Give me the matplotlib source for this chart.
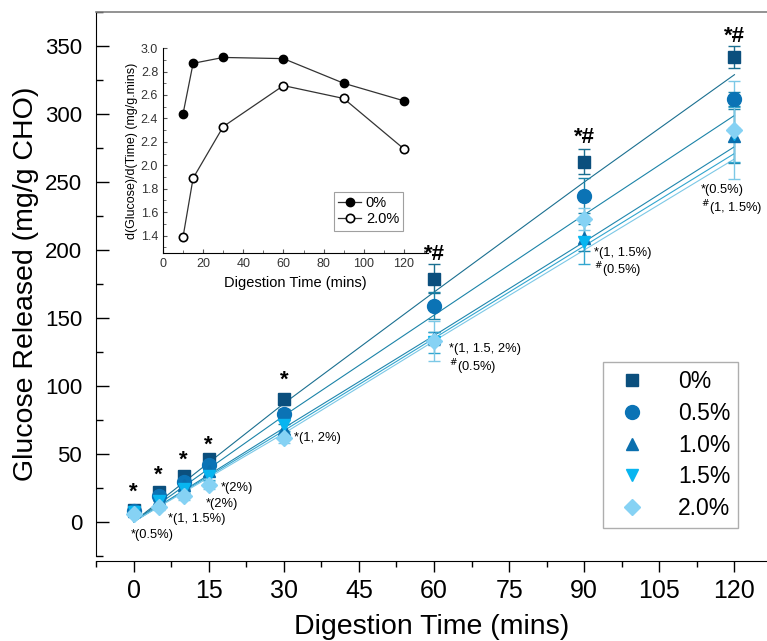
import numpy as np
import matplotlib
matplotlib.use('Agg')
from matplotlib import pyplot as plt
from matplotlib.ticker import MultipleLocator

plt.rcParams['font.family'] = ['Liberation Sans', 'DejaVu Sans']

# digestion data (mg/g CHO)
time = [0, 5, 10, 15, 30, 60, 90, 120]
labels = ['0%', '0.5%', '1.0%', '1.5%', '2.0%']
glc_00 = [9, 22, 34, 46, 90, 179, 265, 342]
glc_05 = [8, 19, 29, 42, 79, 159, 240, 311]
glc_10 = [8, 17, 27, 37, 68, 135, 209, 284]
glc_15 = [7, 15, 24, 34, 71, 132, 206, 285]
glc_20 = [6, 11, 19, 27, 62, 133, 223, 288]
err_00 = [3, 3, 3, 4, 4, 11, 9, 8]
err_05 = [2, 3, 3, 4, 4, 10, 13, 5]
err_10 = [2, 2, 3, 3, 4, 5, 10, 20]
err_15 = [2, 2, 3, 3, 4, 8, 16, 20]
err_20 = [2, 2, 3, 3, 4, 15, 8, 36]

# fitted curves read at a few time points
fit_time = [0, 30, 60, 90, 120]
fit_00 = [0, 87, 169, 250, 329]
fit_05 = [0, 78, 152, 226, 299]
fit_10 = [0, 69, 137, 206, 276]
fit_15 = [0, 67, 135, 203, 271]
fit_20 = [0, 65, 133, 200, 267]

# inset: rate of digestion
rate_time = [10, 15, 30, 60, 90, 120]
rate_00 = [2.44, 2.87, 2.92, 2.91, 2.70, 2.55]
rate_20 = [1.39, 1.89, 2.33, 2.68, 2.57, 2.14]

# significance marks
star_time = [0, 5, 10, 15, 30, 60, 90, 120]
star_y = [22, 34, 45, 56, 104, 197, 283, 357]
star_text = ['*', '*', '*', '*', '*', '*#', '*#', '*#']
note_x = [-0.6, 6.8, 14.4, 17.5, 32, 63, 63, 92, 92, 113.3, 113.3]
note_y = [-10, 2, 13, 25, 62, 127, 114, 198, 185, 244, 231]
note_text = ['*(0.5%)', '*(1, 1.5%)', '*(2%)', '*(2%)', '*(1, 2%)',
             '*(1, 1.5, 2%)', r'$^{\#}$(0.5%)', '*(1, 1.5%)', r'$^{\#}$(0.5%)',
             '*(0.5%)', r'$^{\#}$(1, 1.5%)']

series = [glc_00, glc_05, glc_10, glc_15, glc_20]
errors = [err_00, err_05, err_10, err_15, err_20]
fits = [fit_00, fit_05, fit_10, fit_15, fit_20]
colors = ['#0b4f7d', '#0b73b5', '#0a6fae', '#08b5f0', '#86d2f4']
line_colors = ['#1a6f90', '#1b83a8', '#1f86ad', '#32a6cf', '#7cc8e6']
markers = ['s', 'o', '^', 'v', 'D']
msizes = [9, 10, 9, 9, 8]

fig = plt.figure(figsize=(7.67, 6.41), dpi=100)
ax = fig.add_axes([0.1252, 0.133, 0.8748, 0.848])

handles = []
for y, e, f, c, lc, m, ms in zip(series, errors, fits, colors, line_colors, markers, msizes):
    ax.plot(fit_time, f, color=lc, lw=0.8, zorder=2)
    eb = ax.errorbar(time, y, yerr=e, fmt=m, color=c, ms=ms, mec=c,
                     ecolor=lc, elinewidth=1.0, capsize=4, capthick=1.0, zorder=3)
    handles.append(eb[0])

for t, yy, s in zip(star_time, star_y, star_text):
    ax.text(t, yy, s, ha='center', va='center', fontsize=16, fontweight='bold')
for xx, yy, s in zip(note_x, note_y, note_text):
    ax.text(xx, yy, s, ha='left', va='center', fontsize=9.3)

ax.set_xlim(-7.5, 126.5)
ax.set_ylim(-25, 375)
ax.xaxis.set_major_locator(MultipleLocator(15))
ax.xaxis.set_minor_locator(MultipleLocator(7.5))
ax.yaxis.set_major_locator(MultipleLocator(50))
ax.yaxis.set_minor_locator(MultipleLocator(25))
ax.tick_params(axis='y', which='major', direction='in', length=9, width=1, labelsize=16, pad=10)
ax.tick_params(axis='y', which='minor', direction='in', length=5, width=1)
ax.tick_params(axis='x', which='major', direction='out', length=8, width=1, labelsize=18, pad=5)
ax.tick_params(axis='x', which='minor', direction='out', length=4, width=1)
ax.spines['bottom'].set_position(('outward', 4))
ax.spines['right'].set_visible(False)
ax.spines['top'].set_color('#808080')
ax.spines['top'].set_linewidth(1.2)
ax.set_xlabel('Digestion Time (mins)', fontsize=20.5, labelpad=8)
ax.set_ylabel('Glucose Released (mg/g CHO)', fontsize=20.5, labelpad=4)

leg = ax.legend(handles, labels, loc='lower right', bbox_to_anchor=(0.957, 0.051),
                borderaxespad=0, fontsize=16.5, frameon=True, fancybox=False,
                edgecolor='#9a9a9a', handletextpad=1.1, labelspacing=0.38,
                borderpad=0.35, handlelength=1.8)
leg.get_frame().set_linewidth(1.0)

# inset
axi = fig.add_axes([0.2125, 0.605, 0.3455, 0.32])
axi.patch.set_alpha(0)
axi.plot(rate_time, rate_00, color='#333333', lw=0.9, marker='o', ms=6,
         mfc='black', mec='black', label='0%')
axi.plot(rate_time, rate_20, color='#333333', lw=0.9, marker='o', ms=6,
         mfc='white', mec='black', mew=1.2, label='2.0%')
axi.set_xlim(0, 132)
axi.set_ylim(1.25, 3.0)
axi.xaxis.set_major_locator(MultipleLocator(20))
axi.xaxis.set_minor_locator(MultipleLocator(10))
axi.yaxis.set_major_locator(MultipleLocator(0.2))
axi.yaxis.set_minor_locator(MultipleLocator(0.1))
axi.tick_params(which='both', direction='in', labelsize=9, labelcolor='#333333', color='#555555')
axi.tick_params(which='major', length=3)
axi.tick_params(which='minor', length=2)
axi.spines['top'].set_visible(False)
axi.spines['right'].set_visible(False)
axi.set_xlabel('Digestion Time (mins)', fontsize=10.5)
axi.set_ylabel('d(Glucose)/d(Time) (mg/g.mins)', fontsize=9, labelpad=2)
ileg = axi.legend(loc='lower right', bbox_to_anchor=(0.935, 0.075), fontsize=10.5,
                  frameon=True, fancybox=False, edgecolor='#888888',
                  handlelength=1.6, handletextpad=0.3, borderpad=0.3, labelspacing=0.15)
ileg.get_frame().set_linewidth(0.8)

plt.savefig('out.png', dpi=100)
